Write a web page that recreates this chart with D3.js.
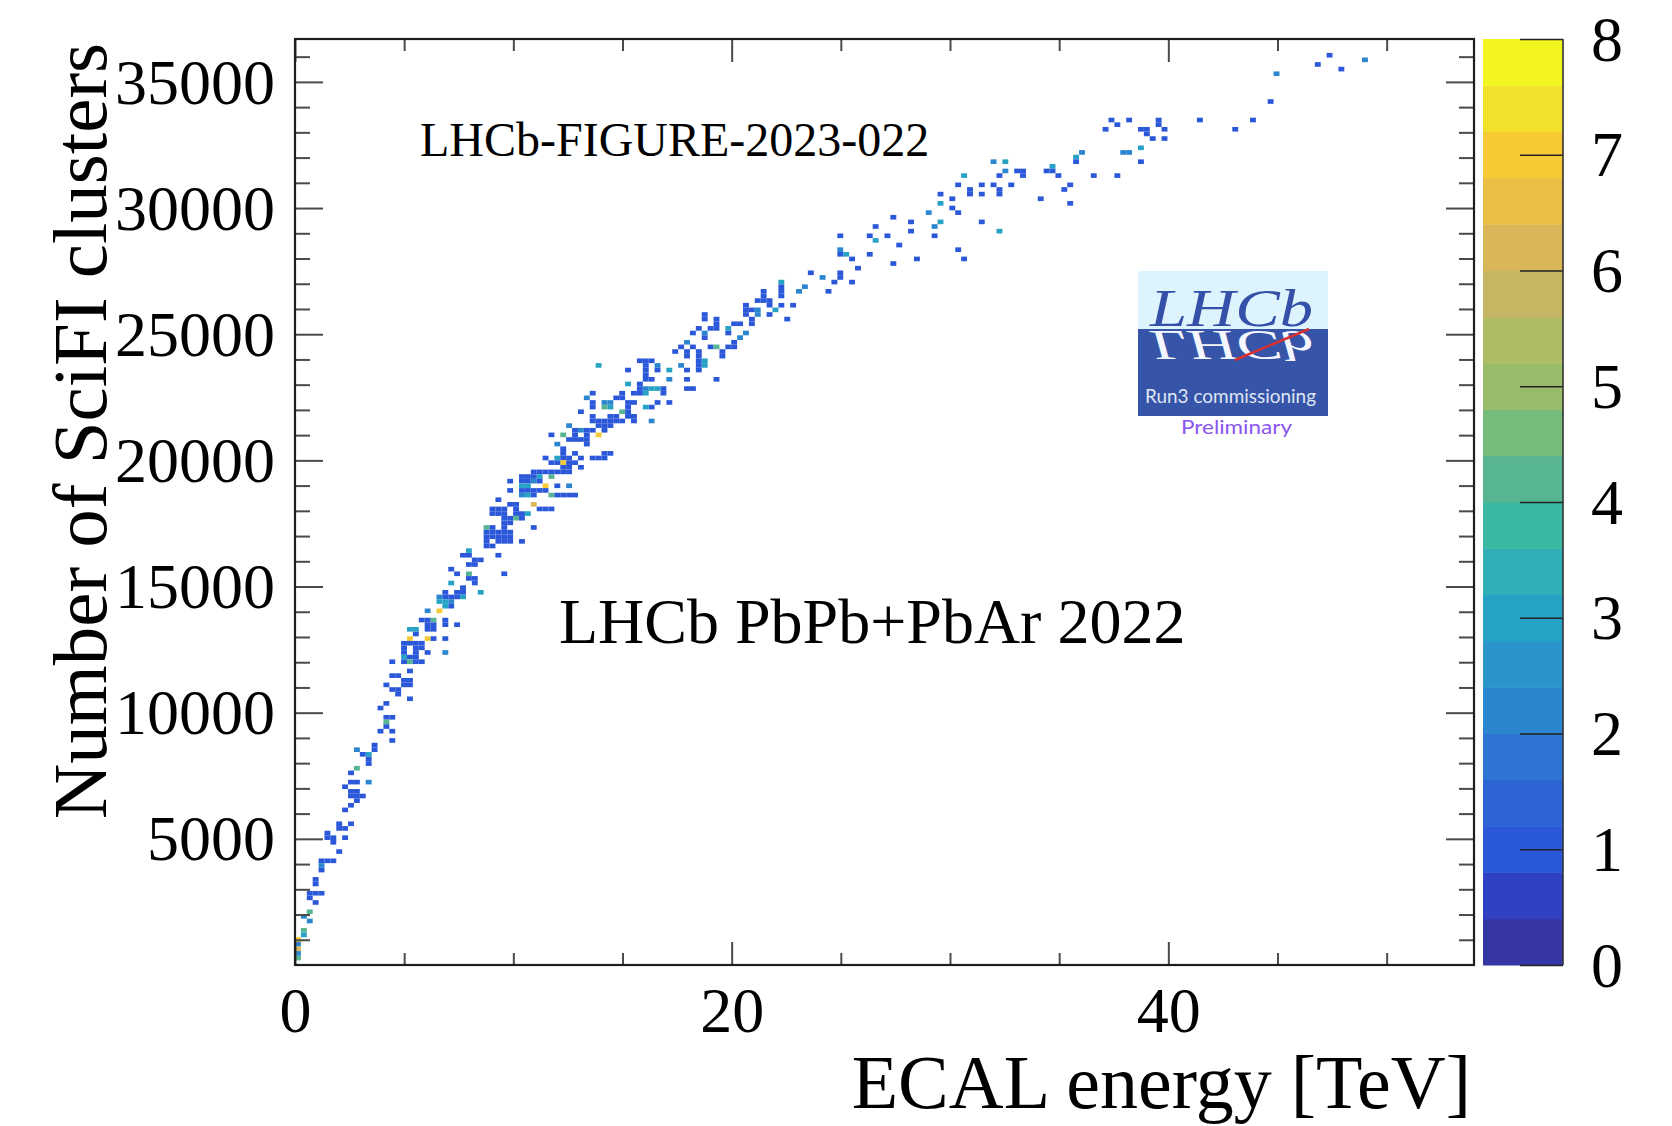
<!DOCTYPE html>
<html>
<head>
<meta charset="utf-8">
<script src="https://cdn.jsdelivr.net/npm/d3@7"></script>
<style>
  html, body { margin: 0; padding: 0; background: #fff; }
  svg { display: block; }
</style>
</head>
<body>
<svg id="chart" width="1672" height="1126"></svg>
<script>
// ---- histogram contents: [ECAL energy (TeV), SciFi clusters, entries] ----
const lowEnergyCells = [
  [4.43,8920,1],[3.59,8720,1],[3.59,8550,1],[3.36,8360,3],[3.06,8360,1],[2.83,8520,2],[3.36,8190,1],[3.36,8020,1],
  [2.83,7730,4],[2.60,7620,1],[2.67,7260,1],[2.90,7260,1],[3.36,7260,2],[2.29,7090,1],[2.60,6870,1],[2.83,6870,1],
  [2.60,6700,1],[2.83,6700,1],[3.10,6700,1],[2.83,6540,1],[2.52,6340,1],[2.29,6210,1],[2.60,5640,1],[2.03,5620,1],
  [2.03,5380,1],[2.24,5380,1],[2.29,5080,1],[1.48,5280,1],[1.48,5080,1],[1.73,5080,1],[1.73,4890,1],[1.91,4490,1],
  [1.22,4090,1],[1.48,4090,1],[1.73,4160,1],[1.22,3920,2],[1.22,3700,1],[0.92,3440,1],[0.92,3240,1],[0.69,2870,1],
  [0.92,2870,1],[1.22,2840,1],[0.69,2680,1],[0.92,2450,1],[0.61,2110,4],[0.38,1910,2],[0.61,1780,2],[0.38,1390,4],
  [0.38,1190,3],[0.15,1020,7],[0.15,860,2],[0.15,660,6],[0.15,270,4],[0.15,480,2]
];
const risingCells = [
  [7.64,16320,1],[7.89,16320,1],[8.09,16470,3],[9.31,16320,1],[9.54,15520,1],[8.17,16120,1],[8.40,16050,1],[8.17,15920,1],
  [7.89,15920,1],[7.10,15650,1],[7.41,15520,1],[7.94,15520,4],[7.89,15260,1],[8.17,15260,1],[8.17,15130,1],[7.64,14990,1],
  [7.41,14860,1],[7.13,15130,3],[6.87,14860,1],[6.87,14660,1],[6.61,14600,2],[6.61,14400,3],[6.87,14400,3],[7.13,14400,2],
  [7.13,14600,1],[7.41,14600,1],[7.64,14600,3],[7.64,14790,1],[7.10,14140,1],[6.87,14180,3],[6.61,14040,7],[6.11,14040,2],
  [8.51,14790,3],[6.37,13670,4],[6.03,13670,1],[5.80,13700,1],[6.11,13470,1],[6.34,13470,1],[6.11,13340,1],[6.34,13340,1],
  [6.87,13700,1],[6.87,13470,1],[7.43,13500,1],[5.24,13340,3],[5.50,13340,3],[5.50,13150,1],[5.24,12990,7],[6.03,12990,7],
  [6.34,12990,1],[6.87,12990,1],[4.99,12810,1],[5.24,12810,1],[5.50,12810,1],[5.76,12810,1],[4.99,12610,1],[5.50,12610,1],
  [5.76,12610,1],[4.99,12420,1],[5.50,12420,1],[6.03,12420,1],[6.87,12420,2],[4.99,12220,3],[5.24,12220,1],[5.50,12220,1],
  [4.99,12020,1],[5.24,12020,4],[5.50,12020,1],[5.76,12020,1],[4.43,12020,1],[5.24,11690,1],[4.43,11490,1],[4.73,11430,1],
  [4.99,11360,1],[5.24,11360,1],[4.99,11160,1],[5.24,11160,1],[4.17,11160,1],[4.43,10970,1],[4.73,10970,1],[4.73,10770,1],
  [5.24,10570,1],[4.17,10370,1],[3.89,10170,1],[4.17,9840,1],[4.43,9840,1],[4.17,9710,4],[4.17,9580,1],[4.17,9380,1],
  [4.43,9180,1],[4.43,8980,1],[3.89,9190,1]
];
const denseCells = [
  [18.06,24660,2],[17.74,24500,1],[17.41,24300,1],[18.02,24270,1],[18.02,24150,1],[17.68,23810,2],[18.02,23610,1],
  [18.02,23210,1],[18.02,22850,1],[18.25,22850,1],[17.15,23610,3],[17.15,23210,2],[17.15,22320,1],[16.84,22790,1],
  [16.84,22630,1],[16.58,22320,1],[16.34,22130,1],[16.03,22130,3],[16.31,21600,2],[15.80,23980,1],[16.03,23980,1],
  [16.26,23980,1],[16.03,23800,1],[16.57,23780,2],[16.57,23610,1],[16.03,23610,1],[16.03,23450,1],[16.03,23210,1],
  [16.29,23210,1],[15.76,23050,1],[15.76,22850,1],[16.29,22850,3],[16.52,22850,3],[16.03,22850,2],[16.03,22660,3],
  [15.76,22660,1],[15.50,22660,1],[15.20,23620,1],[15.20,23050,3],[15.42,22320,1],[15.65,22320,1],[15.20,22320,1],
  [14.86,22660,1],[14.86,22500,1],[14.66,22500,1],[13.89,23810,3],[15.20,22130,1],[15.20,21940,1],[15.20,21760,1],
  [15.42,21760,1],[15.65,21760,1],[15.42,21600,1],[14.93,21990,4],[14.86,21600,1],[14.66,21800,1],[14.66,21600,1],
  [14.51,21760,1],[14.35,21600,1],[14.12,21600,1],[13.89,21600,1],[13.89,21400,1],[14.12,21400,1],[14.35,21400,1],
  [14.12,21230,1],[13.89,21030,7],[14.35,22130,3],[14.35,22320,2],[14.12,22130,4],[14.12,22320,2],[13.67,22660,1],
  [13.67,22320,1],[13.67,22130,1],[13.36,22500,2],[13.13,21970,1],[13.67,21760,1],[13.67,21600,1],[13.44,21230,1],
  [13.44,21030,1],[13.67,21230,1],[13.13,21230,2],[12.83,21230,1],[12.83,21030,1],[12.83,20850,1],[13.13,20850,1],
  [13.36,20850,1],[13.36,20680,1],[12.52,21400,2],[12.29,21030,4],[12.52,20850,1],[11.71,21030,1],[11.99,20680,2],
  [12.29,20480,1],[12.29,20300,1],[12.02,20140,3],[12.29,20140,1],[12.52,20140,1],[12.29,19950,7],[12.52,19950,1],
  [12.75,19950,1],[12.02,19950,1],[11.76,19950,1],[11.45,20140,1],[12.22,19750,1],[12.47,19750,1],[12.02,19550,1],
  [12.29,19550,1],[12.52,19550,1],[12.75,20340,1],[13.02,20140,1],[13.02,19750,1],[13.67,20120,1],[13.89,20120,1],
  [14.12,20120,1],[14.12,20280,1],[14.35,20280,1],[11.76,19550,1],[11.76,19350,4],[11.45,19550,1],[11.22,19550,1],
  [10.92,19550,1],[11.22,19350,3],[10.92,19350,1],[10.61,19350,1],[10.39,19350,1],[10.39,19150,1],[10.61,19150,1],
  [10.92,19150,2],[11.22,19150,1],[11.45,18960,7],[11.68,18670,4],[11.99,18960,1],[11.99,18670,1],[12.23,18670,1],
  [12.52,18670,1],[12.75,18670,1],[12.52,18990,2],[11.22,18760,1],[11.45,18760,1],[10.39,18960,3],[10.61,18960,3],
  [10.39,18760,1],[10.61,18760,1],[10.92,18760,1],[9.82,19150,1],[9.82,18820,1],[10.39,18560,2],[10.61,18560,3],
  [10.92,18560,1],[10.92,18300,6],[11.22,18100,1],[11.45,18100,1],[11.68,18100,1],[10.08,18300,1],[10.08,18100,1],
  [9.82,18300,1],[9.31,18460,1],[9.06,18100,1],[9.31,18100,1],[9.54,18100,1],[9.06,17900,1],[9.31,17900,1],
  [9.54,17900,1],[9.54,17700,1],[9.82,17700,1],[10.08,17900,1],[10.39,17900,1],[10.08,17700,4],[10.39,17700,1],
  [10.54,17900,3],[10.92,17350,1],[9.82,17530,1],[9.54,17530,1],[9.54,17350,1],[8.78,17350,4],[9.06,17350,1],
  [8.78,17170,1],[9.06,17170,1],[9.31,17170,1],[9.54,17170,1],[9.82,17170,1],[8.78,17000,1],[9.06,17000,1],
  [9.31,17000,1],[9.54,17000,1],[9.82,17000,1],[9.31,16840,1],[9.54,16840,1],[9.82,16840,1],[8.78,16840,1],
  [10.39,16840,1],[9.06,16650,1],[8.78,16650,1]
];
const upperCells = [
  [26.60,29300,1],[24.98,28920,1],[26.34,28920,1],[27.11,28920,1],[26.60,28700,3],[24.98,28350,2],[24.98,28200,1],
  [25.27,28200,3],[25.53,27990,1],[26.34,28180,1],[27.36,27820,1],[25.82,27630,1],[23.61,27460,1],[24.16,27280,2],
  [24.98,27460,1],[24.98,27280,1],[24.71,27080,1],[25.53,27080,1],[24.45,26700,1],[23.33,26870,2],[23.06,26700,2],
  [22.25,27080,3],[22.25,26890,1],[22.25,26700,1],[22.25,26510,1],[21.44,26700,1],[21.44,26510,1],[21.16,26340,1],
  [21.44,26340,1],[21.70,26340,1],[21.70,26170,1],[22.25,26170,1],[22.80,26170,1],[21.99,25990,3],[21.70,25800,1],
  [22.52,25630,1],[20.61,26160,1],[20.61,25990,1],[20.61,25800,1],[20.89,25990,1],[21.16,25990,2],[21.16,25800,2],
  [20.89,25630,1],[20.89,25440,1],[20.06,25440,1],[20.34,25440,1],[20.67,25020,2],[20.40,24850,2],[20.14,24660,1],
  [19.87,25260,3],[19.87,25090,1],[19.32,25600,1],[19.32,25430,1],[19.04,25260,1],[19.32,25260,1],[18.77,25770,1],
  [18.77,25600,1],[18.49,25260,1],[18.22,25020,1],[18.77,25020,2],[18.77,24850,1],[19.04,24500,1],[19.32,24500,4],
  [19.59,24300,1],[19.59,24140,1],[19.87,24500,1],[20.14,24500,1],[18.22,24500,1],[18.49,24300,1],[18.49,24140,1],
  [18.49,23980,1],[18.49,23780,1],[18.77,23980,3],[18.77,23780,3],[18.49,23620,1],[19.32,23210,1]
];
const highEnergyCells = [
  [37.41,33510,1],[37.69,33320,1],[38.19,33500,1],[37.15,33140,1],[38.71,33140,1],[38.98,33140,1],[38.98,32960,1],
  [39.51,33470,1],[39.51,33310,1],[39.80,33140,1],[39.80,32790,1],[39.26,32790,1],[37.88,32190,2],[38.16,32190,2],
  [38.71,32370,3],[38.71,31840,1],[37.69,31310,1],[36.59,31310,1],[36.04,32190,2],[35.78,32010,3],[35.78,31840,1],
  [34.68,31680,3],[34.51,31490,1],[34.74,31490,1],[34.99,31310,1],[35.52,30950,1],[35.24,30740,1],[35.49,30190,1],
  [34.14,30360,1],[33.06,31490,1],[33.29,31490,1],[33.29,31310,1],[32.54,31840,3],[32.02,31840,2],[32.54,31490,2],
  [32.28,31310,1],[32.79,30950,1],[32.02,30950,1],[32.26,30710,1],[32.26,30540,1],[31.47,30950,1],[31.47,30540,1],
  [30.92,30710,1],[30.92,30540,1],[30.37,30950,1],[30.65,31310,3],[29.56,30540,1],[29.56,30190,3],[30.10,30360,1],
  [30.10,30010,1],[30.37,29830,1],[29.01,29830,2],[29.56,29490,3],[29.29,29300,2],[29.29,28890,1],[28.21,29490,1],
  [28.21,29130,1],[27.38,29660,1],[27.66,28530,1],[31.47,29490,1],[32.26,29130,3],[30.37,28360,1],[30.65,28030,1],
  [28.48,28030,1]
];
const tailCells = [
  [47.38,36040,1],[46.85,35700,1],[47.92,35510,1],[49.03,35870,2],[44.91,35340,2],[44.65,34200,1],[43.90,33500,1],
  [43.08,33140,1],[41.43,33500,1]
];

// ---- axes, binning and palette ----
const xDomain = [0, 54];
const yDomain = [0, 36700];
const zDomain = [0, 8];
const nBinsX = 200, nBinsY = 200;
const xTickLabels = [0, 20, 40];
const yTickLabels = [5000, 10000, 15000, 20000, 25000, 30000, 35000];
const zTickLabels = [0, 1, 2, 3, 4, 5, 6, 7, 8];
const paletteColors = [
  "#3535a5","#2f40c3","#2b57d9","#2c64d5","#2e74d2","#2b85cf","#2a94cb","#26a2c5","#32aeb6","#3bb8a2",
  "#58b592","#77bb7b","#98bc6a","#b0bc64","#c6b563","#d9b657","#ebbf43","#f7ca35","#f2e12b","#f3f61e"
];

const serif = "'Liberation Serif', 'Times New Roman', serif";
const svg = d3.select("#chart");
svg.append("rect").attr("width", 1672).attr("height", 1126).attr("fill", "#fff");

const frame = { left: 295, right: 1474, top: 39, bottom: 965 };
const x = d3.scaleLinear().domain(xDomain).range([frame.left, frame.right]);
const y = d3.scaleLinear().domain(yDomain).range([frame.bottom, frame.top]);
const color = d3.scaleQuantize().domain(zDomain).range(paletteColors);

const binW = (xDomain[1] - xDomain[0]) / nBinsX;
const binH = (yDomain[1] - yDomain[0]) / nBinsY;

// fill each histogram bin once
const bins = new Map();
[lowEnergyCells, risingCells, denseCells, upperCells, highEnergyCells, tailCells].flat().forEach(([e, n, c]) => {
  const i = Math.floor(e / binW), j = Math.floor(n / binH);
  const key = i + ":" + j;
  const prev = bins.get(key);
  if (!prev || prev.c < c) bins.set(key, { i, j, c });
});

svg.append("g").attr("class", "cells")
  .selectAll("rect")
  .data(Array.from(bins.values()))
  .join("rect")
  .attr("x", d => x(d.i * binW))
  .attr("y", d => y((d.j + 1) * binH))
  .attr("width", d => x((d.i + 1) * binW) - x(d.i * binW))
  .attr("height", d => y(d.j * binH) - y((d.j + 1) * binH))
  .attr("fill", d => color(d.c));

// ---- axes: ticks on all four sides, drawn inward ----
const xMinor = d3.range(0, 55, 5).filter(v => !xTickLabels.includes(v));
const yMinor = d3.range(1000, 36700, 1000).filter(v => v % 5000 !== 0);

function styleAxis(g) {
  g.select(".domain").remove();
  g.selectAll(".tick line").attr("stroke", "#4a4a4a").attr("stroke-width", 2);
  g.selectAll(".tick text").attr("fill", "#000").style("font-family", serif).style("font-size", "64px");
}

const axBottom = svg.append("g").attr("transform", `translate(0,${frame.bottom})`)
  .call(d3.axisBottom(x).tickValues(xTickLabels).tickSize(-23).tickSizeOuter(0).tickFormat(d3.format("d")));
styleAxis(axBottom);
axBottom.selectAll(".tick text").attr("y", 67).attr("dy", null);
svg.append("g").attr("transform", `translate(0,${frame.bottom})`)
  .call(d3.axisBottom(x).tickValues(xMinor).tickSize(-12).tickSizeOuter(0).tickFormat(""))
  .call(styleAxis);

svg.append("g").attr("transform", `translate(0,${frame.top})`)
  .call(d3.axisTop(x).tickValues(xTickLabels).tickSize(-23).tickSizeOuter(0).tickFormat(""))
  .call(styleAxis);
svg.append("g").attr("transform", `translate(0,${frame.top})`)
  .call(d3.axisTop(x).tickValues(xMinor).tickSize(-12).tickSizeOuter(0).tickFormat(""))
  .call(styleAxis);

const axLeft = svg.append("g").attr("transform", `translate(${frame.left},0)`)
  .call(d3.axisLeft(y).tickValues(yTickLabels).tickSize(-28).tickSizeOuter(0).tickPadding(20).tickFormat(d3.format("d")));
styleAxis(axLeft);
axLeft.selectAll(".tick text").attr("dy", "0.33em");
svg.append("g").attr("transform", `translate(${frame.left},0)`)
  .call(d3.axisLeft(y).tickValues(yMinor).tickSize(-15).tickSizeOuter(0).tickFormat(""))
  .call(styleAxis);

svg.append("g").attr("transform", `translate(${frame.right},0)`)
  .call(d3.axisRight(y).tickValues(yTickLabels).tickSize(-28).tickSizeOuter(0).tickFormat(""))
  .call(styleAxis);
svg.append("g").attr("transform", `translate(${frame.right},0)`)
  .call(d3.axisRight(y).tickValues(yMinor).tickSize(-15).tickSizeOuter(0).tickFormat(""))
  .call(styleAxis);

svg.append("rect")
  .attr("x", frame.left).attr("y", frame.top)
  .attr("width", frame.right - frame.left).attr("height", frame.bottom - frame.top)
  .attr("fill", "none").attr("stroke", "#1e1e1e").attr("stroke-width", 2.2);

// ---- colour scale bar ----
const bar = { left: 1483, right: 1563 };
const z = d3.scaleLinear().domain(zDomain).range([frame.bottom, frame.top]);
const bandStep = (zDomain[1] - zDomain[0]) / paletteColors.length;
svg.append("g").selectAll("rect")
  .data(paletteColors)
  .join("rect")
  .attr("x", bar.left)
  .attr("width", bar.right - bar.left)
  .attr("y", (c, k) => z((k + 1) * bandStep))
  .attr("height", (c, k) => z(k * bandStep) - z((k + 1) * bandStep) + 0.5)
  .attr("fill", c => c);

const axZ = svg.append("g").attr("transform", `translate(${bar.right},0)`)
  .call(d3.axisRight(z).tickValues(zTickLabels).tickSize(-43).tickSizeOuter(0).tickPadding(28).tickFormat(d3.format("d")));
styleAxis(axZ);
axZ.selectAll(".tick line").attr("stroke", "#222").attr("stroke-width", 1.6);
axZ.selectAll(".tick text").attr("dy", "0.33em");
svg.append("line")
  .attr("x1", bar.right).attr("x2", bar.right).attr("y1", frame.top).attr("y2", frame.bottom)
  .attr("stroke", "#333").attr("stroke-width", 1.6);

// ---- axis titles ----
svg.append("text")
  .attr("x", 1471).attr("y", 1108)
  .attr("text-anchor", "end")
  .style("font-family", serif).style("font-size", "76px")
  .text("ECAL energy [TeV]");

svg.append("text")
  .attr("transform", "translate(106,43) rotate(-90)")
  .attr("text-anchor", "end")
  .style("font-family", serif).style("font-size", "77px")
  .text("Number of SciFI clusters");

// ---- annotations ----
svg.append("text")
  .attr("x", 420).attr("y", 156)
  .style("font-family", serif).style("font-size", "48px")
  .text("LHCb-FIGURE-2023-022");

svg.append("text")
  .attr("x", 559).attr("y", 643)
  .style("font-family", serif).style("font-size", "64px")
  .text("LHCb PbPb+PbAr 2022");

// ---- experiment logo ----
const logo = svg.append("g");
logo.append("defs").append("clipPath").attr("id", "logo-lower")
  .append("rect").attr("x", 1138).attr("y", 329).attr("width", 190).attr("height", 87);
logo.append("rect").attr("x", 1138).attr("y", 271).attr("width", 190).attr("height", 58).attr("fill", "#ddf3fd");
logo.append("rect").attr("x", 1138).attr("y", 329).attr("width", 190).attr("height", 87).attr("fill", "#3755a8");
logo.append("g").attr("clip-path", "url(#logo-lower)")
  .append("text")
  .attr("transform", "translate(1150,331) scale(1,-0.8)")
  .attr("textLength", 163).attr("lengthAdjust", "spacingAndGlyphs")
  .style("font-family", serif).style("font-style", "italic").style("font-size", "52px")
  .attr("fill", "#f4f7ff")
  .text("LHCb");
logo.append("text")
  .attr("transform", "translate(1150,326)")
  .attr("textLength", 163).attr("lengthAdjust", "spacingAndGlyphs")
  .style("font-family", serif).style("font-style", "italic").style("font-size", "52px")
  .attr("fill", "#3550a8")
  .text("LHCb");
logo.append("line")
  .attr("x1", 1235).attr("y1", 360).attr("x2", 1309).attr("y2", 329)
  .attr("stroke", "#d83030").attr("stroke-width", 2.5);
logo.append("text")
  .attr("x", 1145).attr("y", 403)
  .attr("textLength", 171).attr("lengthAdjust", "spacingAndGlyphs")
  .style("font-family", "Lato, 'Open Sans', sans-serif").style("font-size", "19px")
  .attr("fill", "#dfe6f5")
  .text("Run3 commissioning");
logo.append("text")
  .attr("x", 1181).attr("y", 434)
  .attr("textLength", 111).attr("lengthAdjust", "spacingAndGlyphs")
  .style("font-family", "Lato, 'Open Sans', sans-serif").style("font-size", "20px")
  .attr("fill", "#8a55f0")
  .text("Preliminary");
</script>
</body>
</html>
